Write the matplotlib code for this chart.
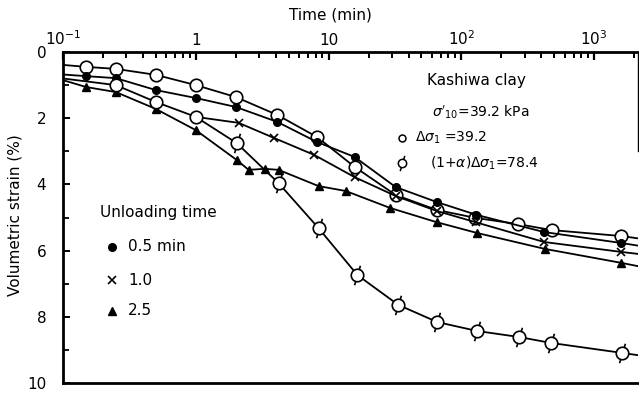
import numpy as np
import matplotlib
matplotlib.use("Agg")
import matplotlib.pyplot as plt
from matplotlib.path import Path
from matplotlib.ticker import LogLocator, NullFormatter

# data (time in min, volumetric strain in %)
# first / last entries of each series are only where the line meets the frame

# open circles, delta sigma1 = 39.2
t_open = [0.1, 0.15, 0.25, 0.5, 1.0, 2.0, 4.1, 8.2, 15.7, 32, 65, 127, 268, 478, 1600, 2140]
e_open = [0.39, 0.45, 0.51, 0.69, 1.0, 1.36, 1.90, 2.57, 3.47, 4.32, 4.77, 5.01, 5.20, 5.38, 5.56, 5.63]

# filled circles, unloading 0.5 min
t_half = [0.1, 0.15, 0.25, 0.5, 1.0, 2.0, 4.1, 8.2, 15.7, 32, 65, 130, 420, 1600, 2140]
e_half = [0.68, 0.73, 0.79, 1.15, 1.39, 1.66, 2.11, 2.72, 3.17, 4.08, 4.53, 4.92, 5.44, 5.77, 5.85]

# (1+a) delta sigma1 = 78.4, plain circles first then slashed circles
t_big = [0.1, 0.25, 0.5, 1.0, 2.03, 4.2, 8.4, 16.5, 33.5, 66, 132, 272, 474, 1620, 2140]
e_big = [0.80, 1.0, 1.51, 1.96, 2.75, 3.96, 5.32, 6.74, 7.64, 8.16, 8.43, 8.61, 8.79, 9.09, 9.16]
n_plain = 3  # circles without slash (after the frame point)

# crosses, unloading 1.0 min (branches off at t = 1)
t_one = [1.0, 2.1, 3.9, 7.8, 15.7, 32, 65, 130, 420, 1600, 2140]
e_one = [1.96, 2.14, 2.60, 3.11, 3.78, 4.35, 4.80, 5.15, 5.74, 6.04, 6.10]

# triangles, unloading 2.5 min
t_tri = [0.1, 0.15, 0.25, 0.5, 1.0, 2.03, 2.5, 3.3, 4.2, 8.4, 13.5, 29, 65, 132, 427, 1600, 2140]
e_tri = [0.85, 1.06, 1.21, 1.72, 2.36, 3.26, 3.56, 3.53, 3.56, 4.05, 4.20, 4.71, 5.14, 5.47, 5.95, 6.37, 6.47]

xtick_pos = [0.1, 1, 10, 100, 1000]
xtick_lab = [r"$10^{-1}$", "1", "10", r"$10^{2}$", r"$10^{3}$"]
ytick_pos = [0, 2, 4, 6, 8, 10]

fig = plt.figure(figsize=(6.39, 3.95), dpi=100)
ax = fig.add_axes([63/639, 12/395, 575/639, 331/395])

slash = Path([(0.3, 1.0), (-0.3, -1.0)], [Path.MOVETO, Path.LINETO])
lw = 1.3

ax.plot(t_open, e_open, "k-", lw=lw, marker="o", ms=9, mfc="white", mec="k",
        mew=1.2, markevery=slice(1, -1), zorder=3)
ax.plot(t_half, e_half, "k-", lw=lw, marker="o", ms=5.5, mfc="k", mec="k",
        markevery=slice(1, -1), zorder=3)
ax.plot(t_one, e_one, "k-", lw=lw, marker="x", ms=6, mew=1.2,
        markevery=slice(1, -1), zorder=3)
ax.plot(t_tri, e_tri, "k-", lw=lw, marker="^", ms=6, mfc="k", mec="k",
        markevery=slice(1, -1), zorder=3)
ax.plot(t_big, e_big, "k-", lw=lw, zorder=3)
# slashed circles: a slanted stroke under a white circle
ax.plot(t_big[1 + n_plain:-1], e_big[1 + n_plain:-1], ls="none", marker=slash,
        ms=14, mec="k", mew=1.2, zorder=4)
ax.plot(t_big[1:-1], e_big[1:-1], ls="none", marker="o", ms=9, mfc="white",
        mec="k", mew=1.2, zorder=5)

ax.set_xscale("log")
ax.set_xlim(0.1, 2140)
ax.set_ylim(10, 0)

ax.set_xticks(xtick_pos)
ax.set_xticklabels(xtick_lab, fontsize=11)
ax.xaxis.set_minor_locator(LogLocator(base=10, subs=np.arange(2, 10), numticks=100))
ax.xaxis.set_minor_formatter(NullFormatter())
ax.tick_params(axis="x", which="both", top=True, bottom=False,
               labeltop=True, labelbottom=False, direction="in", color="k")
ax.tick_params(axis="x", which="major", length=6, width=1.6, pad=3)
ax.tick_params(axis="x", which="minor", length=4, width=1.4)
ax.set_yticks(ytick_pos)
ax.set_yticks([1, 3, 5, 7, 9], minor=True)
ax.tick_params(axis="y", which="major", direction="in", length=5, width=1.4,
               pad=12, labelsize=11)
ax.tick_params(axis="y", which="minor", direction="in", length=4.5, width=1.3)

for s in ["left", "top", "bottom"]:
    ax.spines[s].set_linewidth(2)
ax.spines["right"].set_linewidth(1)
ax.spines["right"].set_bounds(0, 3)

fig.text(330/639, 1 - 15/395, "Time (min)", ha="center", va="center", fontsize=11)
fig.text(15/639, 1 - 215/395, "Volumetric strain (%)", rotation=90,
         ha="center", va="center", fontsize=11)

# unloading time key
tr = ax.transAxes
ax.text(0.064, 0.514, "Unloading time", transform=tr, fontsize=11, va="center")
ax.plot([0.085], [0.411], "ko", ms=5.5, transform=tr, clip_on=False)
ax.text(0.113, 0.411, "0.5 min", transform=tr, fontsize=11, va="center")
ax.plot([0.085], [0.311], "kx", ms=6, mew=1.2, transform=tr, clip_on=False)
ax.text(0.113, 0.311, "1.0", transform=tr, fontsize=11, va="center")
ax.plot([0.085], [0.218], "k^", ms=6, transform=tr, clip_on=False)
ax.text(0.113, 0.218, "2.5", transform=tr, fontsize=11, va="center")

# test conditions
ax.text(0.633, 0.915, "Kashiwa clay", transform=tr, fontsize=11, va="center")
ax.text(0.642, 0.819, r"$\sigma'_{10}$=39.2 kPa", transform=tr, fontsize=10, va="center")
ax.plot([0.590], [0.740], "o", ms=5, mfc="white", mec="k", mew=1.1, transform=tr)
ax.text(0.612, 0.740, r"$\Delta\sigma_1$ =39.2", transform=tr, fontsize=10, va="center")
ax.plot([0.590], [0.665], ls="none", marker=slash, ms=11, mec="k", mew=1.1, transform=tr)
ax.plot([0.590], [0.665], "o", ms=6, mfc="white", mec="k", mew=1.1, transform=tr)
ax.text(0.638, 0.665, r"(1+$\alpha$)$\Delta\sigma_1$=78.4", transform=tr, fontsize=10, va="center")

fig.savefig("out.png", dpi=100)
